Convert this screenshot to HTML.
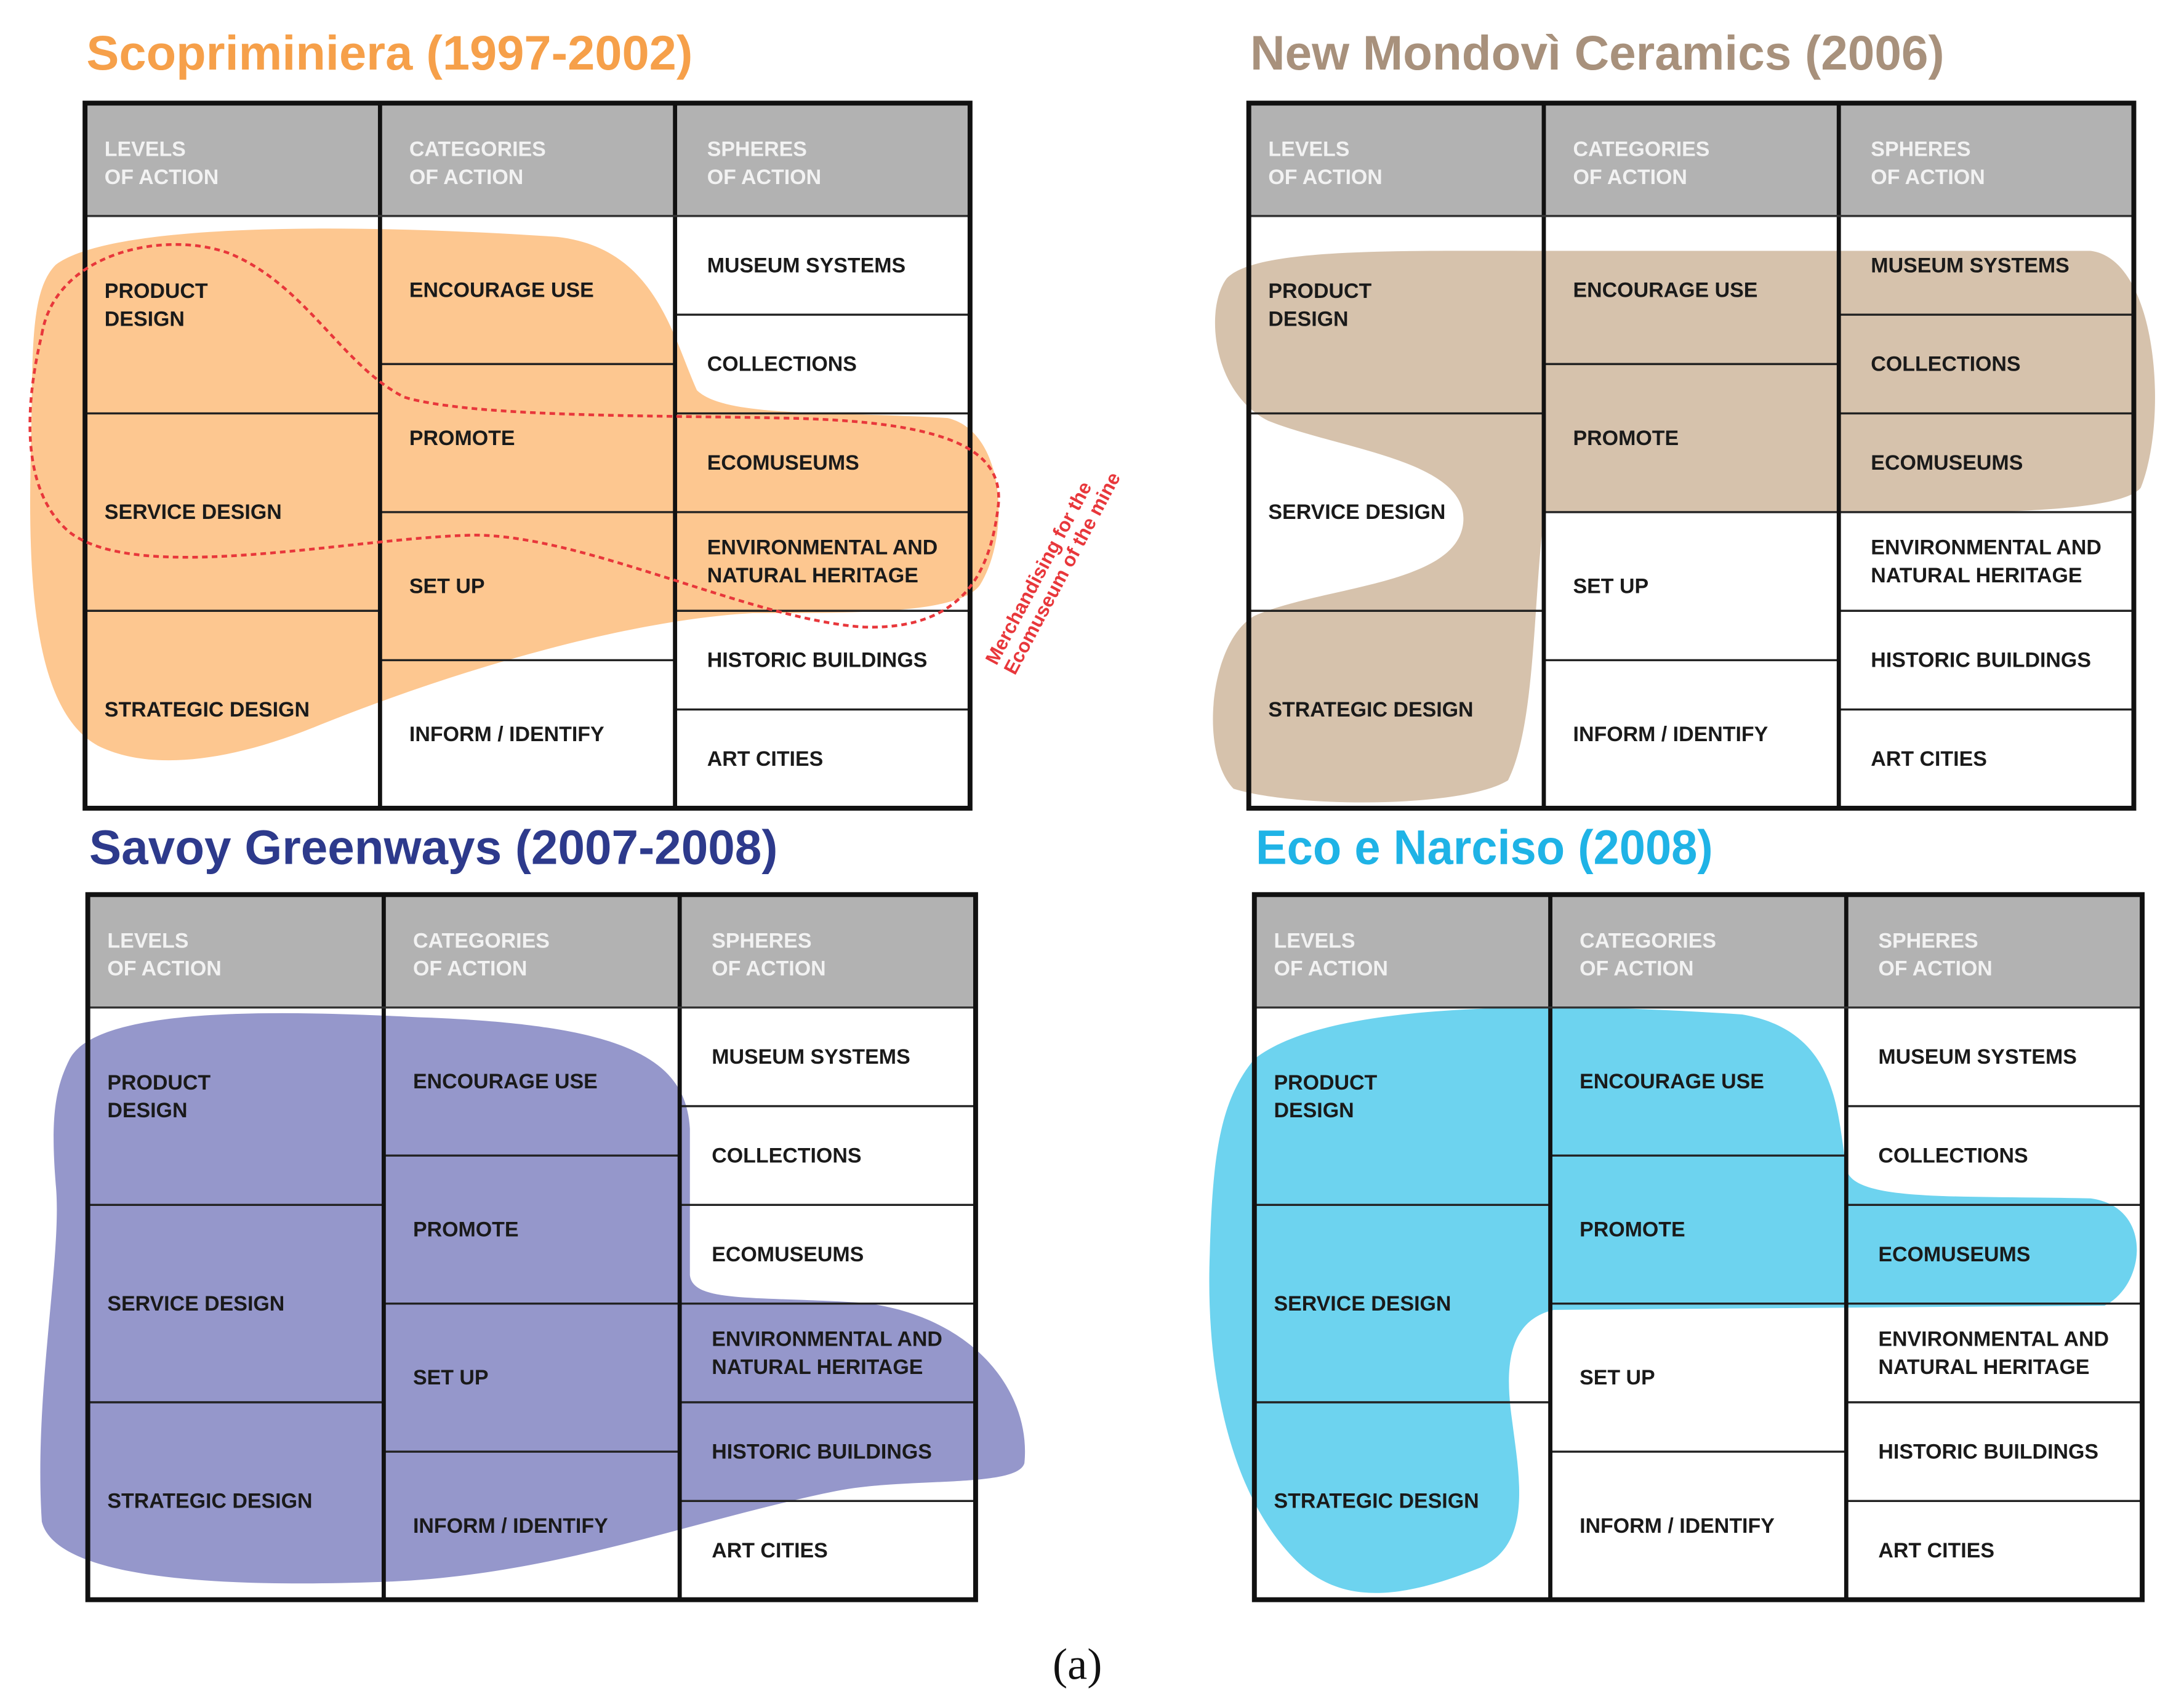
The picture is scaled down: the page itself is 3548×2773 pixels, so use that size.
<!DOCTYPE html>
<html><head><meta charset="utf-8">
<style>
html,body{margin:0;padding:0;background:#fff;}
svg{display:block;}
text{font-family:"Liberation Sans",sans-serif;}
.cell{font-weight:bold;font-size:15px;fill:#1a1a1a;}
.hdr{font-weight:bold;font-size:15px;fill:#f2f2f2;}
.title{font-weight:bold;font-size:35px;}
</style></head>
<body>
<svg id="fig" width="3548" height="2773" viewBox="0 0 1567 1225" preserveAspectRatio="none" xmlns="http://www.w3.org/2000/svg">
<rect width="1567" height="1225" fill="#fff"/>
<g id="blobs"></g>
<path fill="#fdc790" d="M 40,190 C 80,160 250,160 400,170 C 470,178 482,240 500,280 C 520,300 600,295 680,300 C 722,310 725,385 703,420 C 688,440 620,440 540,440 C 450,445 330,480 230,520 C 170,545 110,555 70,535 C 25,510 20,420 22,330 C 24,260 20,210 40,190 Z"/>
<path fill="#d6c2ac" d="M 880,200 C 900,178 1000,180 1100,180 L 1500,180 C 1548,186 1556,300 1536,350 C 1520,370 1400,368 1320,368 L 1108,368 C 1100,430 1102,520 1082,560 C 1050,580 930,580 885,566 C 860,540 868,460 900,442 C 950,420 1050,420 1050,372 C 1050,330 960,322 910,302 C 870,282 864,222 880,200 Z"/>
<path fill="#9597cb" d="M 50,760 C 70,722 200,725 300,730 C 450,735 492,760 495,810 L 495,915 C 497,935 540,930 620,935 C 700,945 740,1000 735,1050 C 730,1068 650,1060 600,1070 C 500,1090 400,1130 280,1135 C 150,1140 40,1132 30,1092 C 24,1000 45,900 40,850 C 36,800 40,780 50,760 Z"/>
<path fill="#6dd3ef" d="M 900,760 C 950,720 1100,718 1250,728 C 1320,740 1318,800 1325,840 C 1332,862 1400,858 1500,860 C 1545,866 1540,922 1510,937 L 1115,940 C 1080,948 1080,985 1085,1020 C 1090,1060 1100,1108 1062,1125 C 1000,1150 960,1150 930,1120 C 880,1070 865,980 868,900 C 870,830 875,790 900,760 Z"/>
<g id="tables"></g>
<path fill="none" stroke="#e8373b" stroke-width="2" stroke-dasharray="4,3" d="M 30,240 C 40,180 120,165 165,182 C 220,205 245,262 290,285 C 340,300 480,298 560,300 C 680,302 722,322 716,365 C 710,412 690,452 620,450 C 540,445 420,384 340,384 C 250,386 100,420 50,382 C 14,352 18,290 30,240 Z"/>
<text transform="translate(715,478) rotate(-62)" font-size="14" style="font-weight:bold;fill:#e8373b"><tspan x="0" y="0">Merchandising for the</tspan><tspan x="0" y="15">Ecomuseum of the mine</tspan></text>
<text class="title" x="62" y="50" fill="#f6a04a" textLength="435" lengthAdjust="spacingAndGlyphs">Scopriminiera (1997-2002)</text>
<text class="title" x="897" y="50" fill="#a8917c" textLength="498" lengthAdjust="spacingAndGlyphs">New Mondovì Ceramics (2006)</text>
<text class="title" x="64" y="620" fill="#2d3a8c" textLength="494" lengthAdjust="spacingAndGlyphs">Savoy Greenways (2007-2008)</text>
<text class="title" x="901" y="620" fill="#1fb3e6" textLength="328" lengthAdjust="spacingAndGlyphs">Eco e Narciso (2008)</text>
<text x="773" y="1205" text-anchor="middle" style="font-family:'Liberation Serif',serif;font-size:32px;fill:#111">(a)</text>
</svg>
<script>
const headers = [["LEVELS","OF ACTION"],["CATEGORIES","OF ACTION"],["SPHERES","OF ACTION"]];
const levels = [["PRODUCT","DESIGN"],["SERVICE DESIGN"],["STRATEGIC DESIGN"]];
const categories = [["ENCOURAGE USE"],["PROMOTE"],["SET UP"],["INFORM / IDENTIFY"]];
const spheres = [["MUSEUM SYSTEMS"],["COLLECTIONS"],["ECOMUSEUMS"],["ENVIRONMENTAL AND","NATURAL HERITAGE"],["HISTORIC BUILDINGS"],["ART CITIES"]];
const panels = [["scopriminiera",61,74,635],["new-mondovi",896,74,635],["savoy-greenways",63,642,637],["eco-e-narciso",900,642,637]];
const NS="http://www.w3.org/2000/svg";
const tg=document.getElementById('tables');
const bg=document.getElementById('blobs');
function mk(tag,attrs,parent){const e=document.createElementNS(NS,tag);for(const k in attrs)e.setAttribute(k,attrs[k]);parent.appendChild(e);return e;}
panels.forEach(p=>{
  const [nm,x,y,w]=p; const h=506, hh=81, cw=w/3, bh=h-hh;
  const bgr=mk('rect',{x:x,y:y,width:w,height:h,fill:'#fff'},bg);
  
  
  const g=mk('g',{},tg);
  
  
  const hr=mk('rect',{x:x,y:y,width:w,height:hh,fill:'#b2b2b2'},g);
  
  
  headers.forEach((hd,i)=>{
    const t=mk('text',{x:x+i*cw+14+(i==2?9:(i==1?7:0)),y:y+38,class:'hdr'},g);
    
    
    hd.forEach((s,j)=>{const ts=mk('tspan',{x:t.getAttribute('x'),y:y+38+j*20},t);ts.textContent=s;});
  });
  const cols=[levels,categories,spheres];
  cols.forEach((col,i)=>{
    const rh=bh/col.length;
    col.forEach((lines,r)=>{
      const cy=y+hh+r*rh+rh/2;
      if(r>0){const ln=mk('line',{x1:x+i*cw,x2:x+(i+1)*cw,y1:y+hh+r*rh,y2:y+hh+r*rh,stroke:'#222','stroke-width':1.5},g);
        
        }
      const tx=x+i*cw+14+(i==2?9:(i==1?7:0));
      const t=mk('text',{x:tx,class:'cell'},g);
      
      
      let y0 = lines.length==2 ? cy-5 : cy+5;
      if(i==0 && r==0) y0 = cy-12;
      lines.forEach((s,j)=>{const ts=mk('tspan',{x:tx,y:y0+j*20},t);ts.textContent=s;});
    });
  });
  for(let i=1;i<3;i++){const vl=mk('line',{x1:x+i*cw,x2:x+i*cw,y1:y,y2:y+h,stroke:'#111','stroke-width':3},g);
    
    }
  const hl=mk('line',{x1:x,x2:x+w,y1:y+hh,y2:y+hh,stroke:'#333','stroke-width':1.5},g);
  
  
  const br=mk('rect',{x:x,y:y,width:w,height:h,fill:'none',stroke:'#111','stroke-width':3.5},g);
  
  
});
</script>
</body></html>
